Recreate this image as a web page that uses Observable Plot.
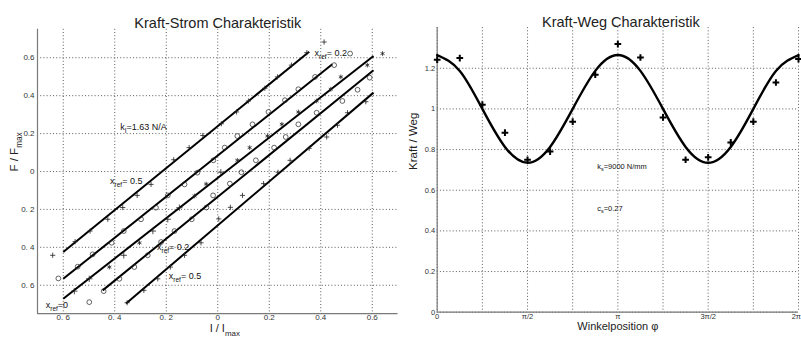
<!DOCTYPE html>
<html>
<head>
<meta charset="utf-8">
<script src="https://cdn.jsdelivr.net/npm/d3@7"></script>
<script src="https://cdn.jsdelivr.net/npm/@observablehq/plot@0.6"></script>
<style>
  html, body { margin: 0; padding: 0; background: #fff; }
  #wrap { display: flex; flex-direction: row; width: 801px; height: 339px; }
  #wrap svg { display: block; }
</style>
</head>
<body>
<div id="wrap"></div>
<script>
// ---------- Left panel: Kraft-Strom Charakteristik ----------
const leftXTicks = [-0.6, -0.4, -0.2, 0, 0.2, 0.4, 0.6];
const leftXLabels = ["0. 6", "0. 4", "0. 2", "0", "0.2", "0.4", "0.6"];
const leftYTicks = [0.6, 0.4, 0.2, 0, -0.2, -0.4, -0.6];
const leftYLabels = ["0.6", "0.4", "0.2", "0", "0. 2", "0. 4", "0. 6"];

// measured points per reference position (I/Imax, F/Fmax)
const seriesA = [[-0.641,-0.442],[-0.554,-0.370],[-0.496,-0.314],[-0.427,-0.252],[-0.369,-0.190],[-0.313,-0.126],[-0.259,-0.068],[-0.171,0.062],[-0.111,0.126],[-0.058,0.190],[0.014,0.252],[0.073,0.314],[0.119,0.372],[0.183,0.439],[0.232,0.499],[0.286,0.561],[0.346,0.627],[0.413,0.683]];
const seriesB = [[-0.619,-0.564],[-0.544,-0.502],[-0.486,-0.437],[-0.412,-0.376],[-0.365,-0.314],[-0.298,-0.252],[-0.240,-0.191],[-0.194,-0.126],[-0.129,-0.068],[-0.079,-0.006],[-0.017,0.059],[0.027,0.126],[0.076,0.187],[0.135,0.249],[0.197,0.314],[0.261,0.376],[0.313,0.434],[0.378,0.499],[0.452,0.561],[0.514,0.622]];
const seriesC = [[-0.557,-0.631,"plus"],[-0.499,-0.566,"plus"],[-0.421,-0.504,"asterisk"],[-0.365,-0.442,"plus"],[-0.304,-0.376,"asterisk"],[-0.252,-0.314,"plus"],[-0.194,-0.252,"plus"],[-0.149,-0.191,"plus"],[-0.090,-0.129,"asterisk"],[-0.045,-0.066,"asterisk"],[0.012,-0.004,"plus"],[0.076,0.059,"asterisk"],[0.124,0.126,"asterisk"],[0.193,0.187,"asterisk"],[0.249,0.249,"asterisk"],[0.313,0.314,"asterisk"],[0.384,0.372,"asterisk"],[0.439,0.434,"asterisk"],[0.478,0.499,"asterisk"],[0.581,0.561,"asterisk"],[0.640,0.622,"asterisk"]];
const seriesD = [[-0.499,-0.689],[-0.443,-0.631],[-0.382,-0.566],[-0.324,-0.504],[-0.272,-0.442],[-0.220,-0.372],[-0.168,-0.314],[-0.101,-0.252],[-0.044,-0.190],[-0.018,-0.126],[0.047,-0.064],[0.092,-0.004],[0.148,0.059],[0.219,0.126],[0.264,0.182],[0.313,0.249],[0.384,0.310],[0.484,0.372],[0.543,0.431],[0.590,0.495]];
const seriesE = [[-0.352,-0.692],[-0.287,-0.627],[-0.233,-0.566],[-0.184,-0.504],[-0.129,-0.442],[-0.065,-0.376],[0.004,-0.250],[0.049,-0.189],[0.096,-0.126],[0.178,-0.064],[0.234,-0.004],[0.281,0.059],[0.355,0.122],[0.423,0.182],[0.465,0.244],[0.504,0.310],[0.575,0.368]];

// fitted lines: [x1, y1, x2, y2]
const fitLines = [
  [-0.600, -0.425, 0.355, 0.632],
  [-0.600, -0.566, 0.445, 0.566],
  [-0.600, -0.671, 0.605, 0.609],
  [-0.447, -0.627, 0.605, 0.534],
  [-0.356, -0.696, 0.605, 0.416]
];

// annotations: [x, y, text]
const leftNotes = [
  [-0.379, 0.232, "k_{I}=1.63 N/A"],
  [0.376, 0.625, "x_{ref}= 0.2"],
  [-0.418, -0.050, "x_{ref}= 0.5"],
  [-0.236, -0.400, "x_{ref}= 0.2"],
  [-0.190, -0.554, "x_{ref}= 0.5"],
  [-0.668, -0.707, "x_{ref}=0"]
];

// ---------- Right panel: Kraft-Weg Charakteristik ----------
const phiTicks = [0, 0.25, 0.5, 0.75, 1, 1.25, 1.5, 1.75, 2]; // in units of pi
const phiLabels = ["0", "", "\u03C0/2", "", "\u03C0", "", "3\u03C0/2", "", "2\u03C0"];
const rightYTicks = [0, 0.2, 0.4, 0.6, 0.8, 1, 1.2];
const rightYLabels = ["0", "0.2", "0.4", "0.6", "0.8", "1", "1.2"];

const phiPoints = [0, 0.125, 0.25, 0.375, 0.5, 0.625, 0.75, 0.875, 1, 1.125, 1.25, 1.375, 1.5, 1.625, 1.75, 1.875, 2];
const measured = [1.242, 1.250, 1.021, 0.883, 0.750, 0.790, 0.937, 1.168, 1.319, 1.253, 0.958, 0.750, 0.762, 0.835, 0.937, 1.130, 1.245];
const phiCurve = [0, 0.125, 0.25, 0.375, 0.5, 0.625, 0.75, 0.875, 1, 1.125, 1.25, 1.375, 1.5, 1.625, 1.75, 1.875, 2];
const fitted = [1.265, 1.187, 1.000, 0.813, 0.735, 0.813, 1.000, 1.187, 1.265, 1.187, 1.000, 0.813, 0.735, 0.813, 1.000, 1.187, 1.265];

const rightNotes = [
  [0.886, 0.717, "k_{s}=9000 N/mm"],
  [0.886, 0.510, "c_{s}=0.27"]
];

const FONT = "'Liberation Sans', Arial, Helvetica, sans-serif";
const gridStyle = {stroke: "#333", strokeOpacity: 1, strokeWidth: 0.8, strokeDasharray: "1,2.2"};

const lx = new Map(leftXTicks.map((d, i) => [d, leftXLabels[i]]));
const ly = new Map(leftYTicks.map((d, i) => [d, leftYLabels[i]]));
const rx = new Map(phiTicks.map((d, i) => [d, phiLabels[i]]));
const ry = new Map(rightYTicks.map((d, i) => [d, rightYLabels[i]]));

const left = Plot.plot({
  width: 400, height: 339,
  marginLeft: 37, marginRight: 2.5, marginTop: 28.8, marginBottom: 25.8,
  style: {fontFamily: FONT, background: "#fff", overflow: "visible", color: "#222"},
  x: {domain: [-0.7, 0.7], axis: null},
  y: {domain: [-0.75, 0.75], axis: null},
  marks: [
    Plot.gridX({ticks: leftXTicks, ...gridStyle}),
    Plot.gridY({ticks: leftYTicks, ...gridStyle}),
    Plot.ruleX([-0.7], {stroke: "#7a7a7a", strokeWidth: 1.2}),
    Plot.ruleY([-0.75], {stroke: "#7a7a7a", strokeWidth: 1.2}),
    Plot.axisX({ticks: leftXTicks, tickFormat: d => lx.get(d), tickSize: 0, tickPadding: 1, fontSize: 8, fill: "#333", label: null}),
    Plot.axisY({ticks: leftYTicks, tickFormat: d => ly.get(d), tickSize: 0, tickPadding: 3, fontSize: 8, fill: "#333", label: null}),
    Plot.link(fitLines, {x1: d => d[0], y1: d => d[1], x2: d => d[2], y2: d => d[3], stroke: "#000", strokeWidth: 2}),
    Plot.dot(seriesA, {x: d => d[0], y: d => d[1], symbol: "plus", r: 1.8, stroke: "#222", strokeWidth: 0.8}),
    Plot.dot(seriesB, {x: d => d[0], y: d => d[1], symbol: "circle", r: 2.4, stroke: "#222", strokeWidth: 0.7}),
    Plot.dot(seriesC, {x: d => d[0], y: d => d[1], symbol: d => d[2], r: 2.2, stroke: "#222", strokeWidth: 0.8}),
    Plot.dot(seriesD, {x: d => d[0], y: d => d[1], symbol: "circle", r: 2.4, stroke: "#222", strokeWidth: 0.7}),
    Plot.dot(seriesE, {x: d => d[0], y: d => d[1], symbol: "plus", r: 1.8, stroke: "#222", strokeWidth: 0.8}),
    Plot.text(leftNotes, {x: d => d[0], y: d => d[1], text: d => d[2], textAnchor: "start", fontSize: 9, fill: "#111"}),
    Plot.text(["Kraft-Strom Charakteristik"], {frameAnchor: "top", dy: -12, fontSize: 14.5, fill: "#222"}),
    Plot.text(["F / F_{max}"], {frameAnchor: "left", dx: -23, rotate: -90, fontSize: 11.5, fill: "#222"}),
    Plot.text(["I / I_{max}"], {frameAnchor: "bottom", dy: 18.5, dx: 7, fontSize: 11, fill: "#222"})
  ]
});

const right = Plot.plot({
  width: 401, height: 339,
  marginLeft: 36.7, marginRight: 3, marginTop: 27.1, marginBottom: 27.3,
  style: {fontFamily: FONT, background: "#fff", overflow: "visible", color: "#222"},
  x: {domain: [0, 2], axis: null},
  y: {domain: [0, 1.4], axis: null},
  marks: [
    Plot.gridX({ticks: phiTicks, ...gridStyle}),
    Plot.gridY({ticks: rightYTicks, ...gridStyle}),
    Plot.ruleX([0], {stroke: "#7a7a7a", strokeWidth: 1.2}),
    Plot.ruleY([0], {stroke: "#7a7a7a", strokeWidth: 1.2}),
    Plot.axisX({ticks: phiTicks.slice(0, -1), tickFormat: d => rx.get(d), tickSize: 0, tickPadding: 1, fontSize: 7.5, fill: "#333", label: null}),
    Plot.axisX({ticks: phiTicks.slice(-1), tickFormat: d => rx.get(d), tickSize: 0, tickPadding: 1, fontSize: 7.5, fill: "#333", label: null, textAnchor: "end", dx: 2.5}),
    Plot.axisY({ticks: rightYTicks, tickFormat: d => ry.get(d), tickSize: 0, tickPadding: 2, fontSize: 7.5, fill: "#333", label: null}),
    Plot.line(phiCurve.map((p, i) => [p, fitted[i]]), {x: d => d[0], y: d => d[1], curve: "natural", stroke: "#000", strokeWidth: 2.4}),
    Plot.dot(phiPoints.map((p, i) => [p, measured[i]]), {x: d => d[0], y: d => d[1], symbol: "plus", r: 2.3, stroke: "#000", strokeWidth: 2}),
    Plot.text(rightNotes, {x: d => d[0], y: d => d[1], text: d => d[2], textAnchor: "start", fontSize: 7.5, fill: "#111"}),
    Plot.text(["Kraft-Weg Charakteristik"], {frameAnchor: "top", dy: -10.5, dx: 3, fontSize: 14.5, fill: "#222"}),
    Plot.text(["Kraft / Weg"], {frameAnchor: "left", dx: -23.5, rotate: -90, fontSize: 11.5, fill: "#222"}),
    Plot.text(["Winkelposition \u03C6"], {frameAnchor: "bottom", dy: 17.8, fontSize: 11, fill: "#222"})
  ]
});

const wrap = document.getElementById("wrap");
wrap.appendChild(left);
wrap.appendChild(right);

// turn "_{...}" into subscript tspans
function subify(svg) {
  const NS = "http://www.w3.org/2000/svg";
  svg.querySelectorAll("text").forEach(t => {
    const s = t.textContent;
    if (!s.includes("_{")) return;
    const fs = parseFloat(getComputedStyle(t).fontSize) || 10;
    t.textContent = "";
    const parts = s.split(/(_\{[^}]*\})/).filter(p => p);
    let shifted = false;
    parts.forEach(p => {
      const ts = document.createElementNS(NS, "tspan");
      if (p.startsWith("_{")) {
        ts.textContent = p.slice(2, -1);
        ts.setAttribute("font-size", (fs * 0.72).toFixed(2));
        ts.setAttribute("dy", (fs * 0.3).toFixed(2));
        shifted = true;
      } else {
        ts.textContent = p;
        if (shifted) { ts.setAttribute("dy", (-fs * 0.3).toFixed(2)); shifted = false; }
      }
      t.appendChild(ts);
    });
  });
}
subify(left);
subify(right);
</script>
</body>
</html>
